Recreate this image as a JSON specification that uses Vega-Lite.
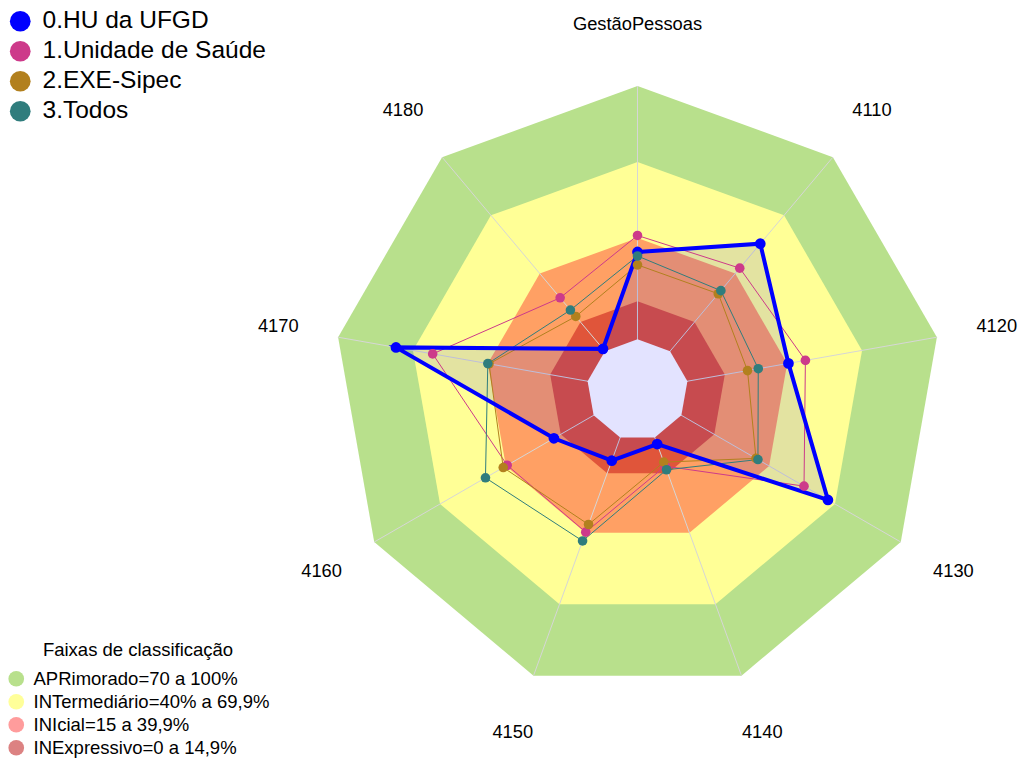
{
  "$schema": "https://vega.github.io/schema/vega-lite/v6.json",
  "width": 1019,
  "height": 758,
  "autosize": {"type": "none"},
  "padding": 0,
  "background": "white",
  "config": {"view": {"stroke": null}, "font": "Liberation Sans"},
  "datasets": {
    "eixos": [
      {"eixo": "GestãoPessoas", "k": 0},
      {"eixo": "4110", "k": 1},
      {"eixo": "4120", "k": 2},
      {"eixo": "4130", "k": 3},
      {"eixo": "4140", "k": 4},
      {"eixo": "4150", "k": 5},
      {"eixo": "4160", "k": 6},
      {"eixo": "4170", "k": 7},
      {"eixo": "4180", "k": 8}
    ],
    "notas": [
      {"serie": "0.HU da UFGD", "k": 0, "valor": 34.5},
      {"serie": "0.HU da UFGD", "k": 1, "valor": 55.4},
      {"serie": "0.HU da UFGD", "k": 2, "valor": 40.5},
      {"serie": "0.HU da UFGD", "k": 3, "valor": 66.8},
      {"serie": "0.HU da UFGD", "k": 4, "valor": 2.7},
      {"serie": "0.HU da UFGD", "k": 5, "valor": 9.7},
      {"serie": "0.HU da UFGD", "k": 6, "valor": 18.1},
      {"serie": "0.HU da UFGD", "k": 7, "valor": 76.8},
      {"serie": "0.HU da UFGD", "k": 8, "valor": 1.2},
      {"serie": "1.Unidade de Saúde", "k": 0, "valor": 41},
      {"serie": "1.Unidade de Saúde", "k": 1, "valor": 42.8},
      {"serie": "1.Unidade de Saúde", "k": 2, "valor": 47.3},
      {"serie": "1.Unidade de Saúde", "k": 3, "valor": 55.9},
      {"serie": "1.Unidade de Saúde", "k": 4, "valor": 12},
      {"serie": "1.Unidade de Saúde", "k": 5, "valor": 39.7},
      {"serie": "1.Unidade de Saúde", "k": 6, "valor": 39.4},
      {"serie": "1.Unidade de Saúde", "k": 7, "valor": 62.1},
      {"serie": "1.Unidade de Saúde", "k": 8, "valor": 27.5},
      {"serie": "2.EXE-Sipec", "k": 0, "valor": 29.4},
      {"serie": "2.EXE-Sipec", "k": 1, "valor": 29.6},
      {"serie": "2.EXE-Sipec", "k": 2, "valor": 24.1},
      {"serie": "2.EXE-Sipec", "k": 3, "valor": 34},
      {"serie": "2.EXE-Sipec", "k": 4, "valor": 10.3},
      {"serie": "2.EXE-Sipec", "k": 5, "valor": 36.5},
      {"serie": "2.EXE-Sipec", "k": 6, "valor": 41.2},
      {"serie": "2.EXE-Sipec", "k": 7, "valor": 39.5},
      {"serie": "2.EXE-Sipec", "k": 8, "valor": 17.9},
      {"serie": "3.Todos", "k": 0, "valor": 32.9},
      {"serie": "3.Todos", "k": 1, "valor": 31.2},
      {"serie": "3.Todos", "k": 2, "valor": 28.4},
      {"serie": "3.Todos", "k": 3, "valor": 34.9},
      {"serie": "3.Todos", "k": 4, "valor": 13.5},
      {"serie": "3.Todos", "k": 5, "valor": 43.4},
      {"serie": "3.Todos", "k": 6, "valor": 49.3},
      {"serie": "3.Todos", "k": 7, "valor": 40},
      {"serie": "3.Todos", "k": 8, "valor": 21.2}
    ]
  },
  "encoding": {
    "x": {"field": "x", "type": "quantitative", "scale": {"domain": [-251.64, 150.59], "nice": false, "zero": false}, "axis": null},
    "y": {"field": "y", "type": "quantitative", "scale": {"domain": [-145.26, 153.95], "nice": false, "zero": false}, "axis": null}
  },
  "layer": [
    {
      "data": {"values": [
        {"faixa": "APRimorado=70 a 100%"},
        {"faixa": "INTermediário=40% a 69,9%"},
        {"faixa": "INIcial=15 a 39,9%"},
        {"faixa": "INExpressivo=0 a 14,9%"}
      ]},
      "transform": [{"calculate": "0", "as": "x"}, {"calculate": "0", "as": "y"}],
      "mark": {"type": "point", "filled": true, "size": 10, "opacity": 1},
      "encoding": {
        "fill": {
          "field": "faixa", "type": "nominal",
          "scale": {"domain": ["APRimorado=70 a 100%", "INTermediário=40% a 69,9%", "INIcial=15 a 39,9%", "INExpressivo=0 a 14,9%"],
                    "range": ["#B8E08C", "#FFFF99", "#FF9C9C", "#DC8282"]},
          "legend": {"orient": "none", "legendX": 7, "legendY": 641, "title": "Faixas de classificação",
                     "titleFontSize": 18.5, "titleFontWeight": "normal", "titleAnchor": "middle", "titlePadding": 10,
                     "titleFont": "Liberation Sans", "titleColor": "black", "titleLimit": 600,
                     "symbolType": "circle", "symbolSize": 246, "symbolStrokeWidth": 0, "symbolOpacity": 1,
                     "labelFontSize": 18.5, "labelFont": "Liberation Sans", "labelColor": "black", "labelOffset": 8,
                     "rowPadding": 4, "padding": 0, "labelLimit": 500}
        }
      }
    },
    {
      "data": {"name": "eixos"},
      "transform": [{"calculate": "120*sin(datum.k*2*PI/9)", "as": "x"}, {"calculate": "120*cos(datum.k*2*PI/9)", "as": "y"}],
      "mark": {"type": "line", "interpolate": "linear-closed", "fill": "#B8E08C", "strokeOpacity": 0},
      "encoding": {"order": {"field": "k", "type": "quantitative"}}
    },
    {
      "data": {"name": "eixos"},
      "transform": [{"calculate": "90*sin(datum.k*2*PI/9)", "as": "x"}, {"calculate": "90*cos(datum.k*2*PI/9)", "as": "y"}],
      "mark": {"type": "line", "interpolate": "linear-closed", "fill": "#FFFF96", "strokeOpacity": 0},
      "encoding": {"order": {"field": "k", "type": "quantitative"}}
    },
    {
      "data": {"name": "eixos"},
      "transform": [{"calculate": "60*sin(datum.k*2*PI/9)", "as": "x"}, {"calculate": "60*cos(datum.k*2*PI/9)", "as": "y"}],
      "mark": {"type": "line", "interpolate": "linear-closed", "fill": "#FFA064", "strokeOpacity": 0},
      "encoding": {"order": {"field": "k", "type": "quantitative"}}
    },
    {
      "data": {"name": "eixos"},
      "transform": [{"calculate": "35*sin(datum.k*2*PI/9)", "as": "x"}, {"calculate": "35*cos(datum.k*2*PI/9)", "as": "y"}],
      "mark": {"type": "line", "interpolate": "linear-closed", "fill": "#E0553A", "strokeOpacity": 0},
      "encoding": {"order": {"field": "k", "type": "quantitative"}}
    },
    {
      "data": {"name": "eixos"},
      "transform": [{"calculate": "0", "as": "x"}, {"calculate": "0", "as": "y"},
                    {"calculate": "120*sin(datum.k*2*PI/9)", "as": "xo"}, {"calculate": "120*cos(datum.k*2*PI/9)", "as": "yo"}],
      "mark": {"type": "rule", "color": "#D6D6D6", "strokeWidth": 1},
      "encoding": {"x2": {"field": "xo"}, "y2": {"field": "yo"}}
    },
    {
      "data": {"name": "eixos"},
      "transform": [{"calculate": "20*sin(datum.k*2*PI/9)", "as": "x"}, {"calculate": "20*cos(datum.k*2*PI/9)", "as": "y"}],
      "mark": {"type": "line", "interpolate": "linear-closed", "fill": "#FFFFFF", "strokeOpacity": 0},
      "encoding": {"order": {"field": "k", "type": "quantitative"}}
    },
    {
      "data": {"name": "notas"},
      "transform": [{"filter": "datum.serie == '0.HU da UFGD'"},
                    {"calculate": "(20+datum.valor)*sin(datum.k*2*PI/9)", "as": "x"}, {"calculate": "(20+datum.valor)*cos(datum.k*2*PI/9)", "as": "y"}],
      "mark": {"type": "line", "interpolate": "linear-closed", "fill": "#0000FF", "fillOpacity": 0.11, "strokeOpacity": 0},
      "encoding": {"order": {"field": "k", "type": "quantitative"}}
    },
    {
      "data": {"name": "notas"},
      "transform": [{"filter": "datum.serie != '0.HU da UFGD'"},
                    {"calculate": "(20+datum.valor)*sin(datum.k*2*PI/9)", "as": "x"}, {"calculate": "(20+datum.valor)*cos(datum.k*2*PI/9)", "as": "y"}],
      "mark": {"type": "line", "interpolate": "linear-closed", "strokeWidth": 1},
      "encoding": {
        "order": {"field": "k", "type": "quantitative"},
        "stroke": {"field": "serie", "type": "nominal",
                   "scale": {"domain": ["1.Unidade de Saúde", "2.EXE-Sipec", "3.Todos"], "range": ["#CD3A8A", "#B2801E", "#307D7D"]},
                   "legend": null}
      }
    },
    {
      "data": {"name": "notas"},
      "transform": [{"filter": "datum.serie == '0.HU da UFGD'"},
                    {"calculate": "(20+datum.valor)*sin(datum.k*2*PI/9)", "as": "x"}, {"calculate": "(20+datum.valor)*cos(datum.k*2*PI/9)", "as": "y"}],
      "mark": {"type": "line", "interpolate": "linear-closed", "strokeWidth": 4, "stroke": "#0000FF"},
      "encoding": {"order": {"field": "k", "type": "quantitative"}}
    },
    {
      "data": {"name": "notas"},
      "transform": [{"filter": "datum.serie == '0.HU da UFGD'"},
                    {"calculate": "(20+datum.valor)*sin(datum.k*2*PI/9)", "as": "x"}, {"calculate": "(20+datum.valor)*cos(datum.k*2*PI/9)", "as": "y"}],
      "mark": {"type": "point", "filled": true, "opacity": 1, "size": 115},
      "encoding": {
        "color": {"field": "serie", "type": "nominal",
                  "scale": {"domain": ["0.HU da UFGD", "1.Unidade de Saúde", "2.EXE-Sipec", "3.Todos"], "range": ["#0000FF", "#CD3A8A", "#B2801E", "#307D7D"]},
                  "legend": {"orient": "none", "legendX": 8, "legendY": 9, "title": null,
                             "symbolType": "circle", "symbolSize": 430, "symbolStrokeWidth": 0, "symbolOpacity": 1,
                             "labelFontSize": 24.5, "labelFont": "Liberation Sans", "labelColor": "black", "labelOffset": 10,
                             "rowPadding": 5, "padding": 0, "labelLimit": 500}}
      }
    },
    {
      "data": {"name": "notas"},
      "transform": [{"filter": "datum.serie != '0.HU da UFGD'"},
                    {"calculate": "(20+datum.valor)*sin(datum.k*2*PI/9)", "as": "x"}, {"calculate": "(20+datum.valor)*cos(datum.k*2*PI/9)", "as": "y"}],
      "mark": {"type": "point", "filled": true, "opacity": 1, "size": 92},
      "encoding": {
        "color": {"field": "serie", "type": "nominal"}
      }
    },
    {
      "data": {"name": "eixos"},
      "transform": [{"calculate": "144*sin(datum.k*2*PI/9)", "as": "x"}, {"calculate": "144*cos(datum.k*2*PI/9)", "as": "y"}],
      "mark": {"type": "text", "fontSize": 18.3, "font": "Liberation Sans", "align": "center", "baseline": "middle", "color": "black"},
      "encoding": {"text": {"field": "eixo", "type": "nominal"}}
    }
  ]
}
